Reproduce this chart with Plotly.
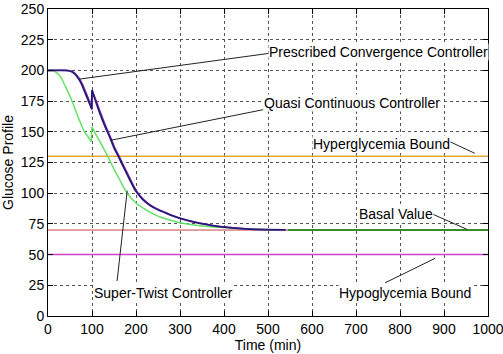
import plotly.graph_objects as go

# ---- data ----
# each controller: before the t=100 jump, and after it
t_prescribed_a = [0, 40, 50, 60, 68, 76, 83, 91, 99]
g_prescribed_a = [200, 200, 199.5, 197.5, 194, 189, 183, 176, 169]
t_prescribed_b = [100, 110, 118, 130, 141, 150, 160, 170, 179, 190, 200, 215, 232, 250, 270, 300, 345, 406, 459, 540]
g_prescribed_b = [184, 173, 165, 154, 145, 137, 130, 122.5, 116, 108, 101.5, 95, 90, 86.5, 83.5, 79.5, 75.5, 72.2, 70.7, 70.2]

t_quasi_a = [0, 42, 52, 62, 70, 78, 85, 93, 100]
g_quasi_a = [200, 200, 199.5, 197.5, 194, 189, 183, 176, 168]
t_quasi_b = [101, 112, 120, 132, 143, 152, 162, 172, 181, 192, 202, 217, 234, 252, 272, 302, 347, 408, 461, 540]
g_quasi_b = [183, 173, 165, 154, 145, 137, 130, 122.5, 116, 108, 101.5, 95, 90, 86.5, 83.5, 79.5, 75.5, 72.2, 70.7, 70.2]

t_super_a = [0, 10, 20, 30, 38, 50, 61, 72, 83, 91, 98]
g_super_a = [200, 199.8, 198, 194, 188, 179, 169, 159, 150, 146, 142]
t_super_b = [100, 110, 118, 127, 136, 148, 160, 170, 180, 200, 220, 240, 260, 300, 345, 400, 450, 500, 540]
g_super_b = [154, 147, 142, 136, 130, 121, 113, 106, 100, 92, 87, 83, 80, 76, 73.5, 72, 71, 70.3, 70]

t_span = [0, 1000]
hyper_bound = [130, 130]
hypo_bound = [50, 50]
basal_value = [70, 70]
t_basal_tail = [545, 1000]
basal_tail = [70, 70]

x_ticks = [0, 100, 200, 300, 400, 500, 600, 700, 800, 900, 1000]
y_ticks = [0, 25, 50, 75, 100, 125, 150, 175, 200, 225, 250]

fig = go.Figure()
fig.add_trace(go.Scatter(x=t_span, y=basal_value, mode="lines", line=dict(color="#c84040", width=1)))
fig.add_trace(go.Scatter(x=t_span, y=hyper_bound, mode="lines", line=dict(color="#e0a830", width=1.5)))
fig.add_trace(go.Scatter(x=t_span, y=hypo_bound, mode="lines", line=dict(color="#d040d0", width=1.5)))
fig.add_trace(go.Scatter(x=t_basal_tail, y=basal_tail, mode="lines", line=dict(color="#3c8c2c", width=2)))


def add_curve(ta, ga, tb, gb, color, width):
    fig.add_trace(go.Scatter(x=ta, y=ga, mode="lines", line=dict(color=color, width=width, shape="spline", smoothing=0.8)))
    fig.add_trace(go.Scatter(x=[ta[-1], tb[0]], y=[ga[-1], gb[0]], mode="lines", line=dict(color=color, width=width)))
    fig.add_trace(go.Scatter(x=tb, y=gb, mode="lines", line=dict(color=color, width=width, shape="spline", smoothing=0.8)))


add_curve(t_super_a, g_super_a, t_super_b, g_super_b, "#66e066", 1.5)
add_curve(t_quasi_a, g_quasi_a, t_quasi_b, g_quasi_b, "#9030b0", 1.5)
add_curve(t_prescribed_a, g_prescribed_a, t_prescribed_b, g_prescribed_b, "#2a1a78", 1.8)

font = dict(family="Liberation Sans, Arial, sans-serif", size=14, color="black")
ann_font = dict(family="Liberation Sans, Arial, sans-serif", size=14, color="black")

labels = [
    ("Prescribed Convergence Controller", 500, 215, (505, 214), (73, 193)),
    ("Quasi Continuous Controller", 489, 173.5, (489, 168), (141, 143)),
    ("Hyperglycemia Bound", 600, 140, (907, 143), (970, 132.5)),
    ("Basal Value", 705, 83, (875, 82.8), (952, 70.6)),
    ("Super-Twist Controller", 102, 18.7, (157, 28.5), (180, 102)),
    ("Hypoglycemia Bound", 659, 18.7, (766, 27), (880, 47)),
]
for text, x, y, p0, p1 in labels:
    fig.add_shape(type="line", x0=p0[0], y0=p0[1], x1=p1[0], y1=p1[1], xref="x", yref="y",
                  line=dict(color="#222222", width=1))
    fig.add_annotation(x=x, y=y, xref="x", yref="y", text=text, showarrow=False,
                       xanchor="left", yanchor="middle", bgcolor="white", font=ann_font, borderpad=0)

axis_common = dict(showgrid=True, gridcolor="#555555", griddash="dot", gridwidth=1,
                   showline=True, linecolor="black", linewidth=1, mirror="ticks",
                   ticks="inside", ticklen=5, tickcolor="black", zeroline=False,
                   tickfont=font, automargin=False, ticklabeloverflow="allow")
fig.update_xaxes(range=[0, 1000], tickvals=x_ticks, title=dict(text="Time (min)", font=font, standoff=4),
                 **axis_common)
fig.update_yaxes(range=[0, 250], tickvals=y_ticks, title=dict(text="Glucose Profile", font=font, standoff=8),
                 **axis_common)
fig.update_layout(width=503, height=354, margin=dict(l=48, r=15, t=9, b=38),
                  plot_bgcolor="white", paper_bgcolor="white", showlegend=False)
fig.write_html("out.html")
